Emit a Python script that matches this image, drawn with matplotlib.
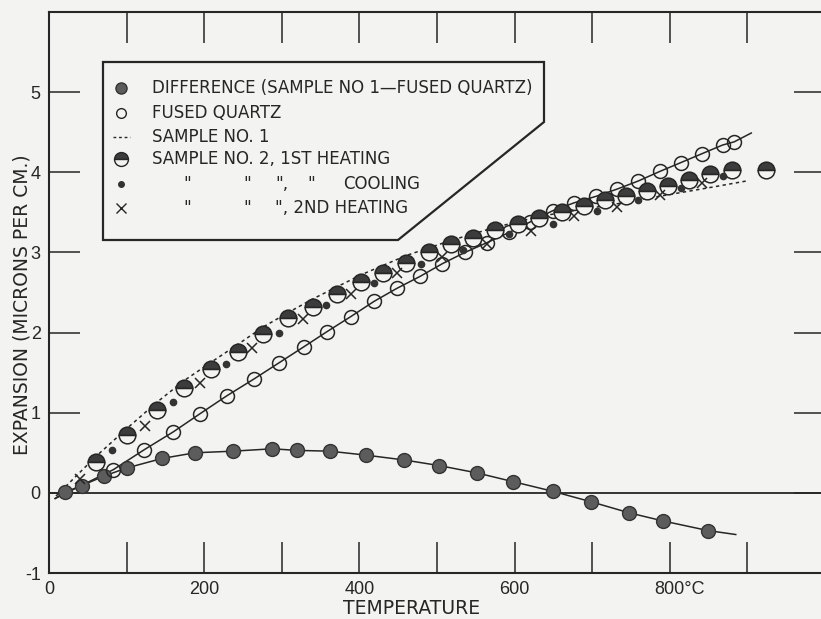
"""Thermal expansion of fused quartz and two samples (scanned NBS-style figure)."""

import matplotlib

matplotlib.use("Agg")
import matplotlib.pyplot as plt
from matplotlib.patches import Polygon
from matplotlib.transforms import ScaledTranslation

# ---- data (temperature in deg C, expansion in microns/cm)
diff_t = [21, 42, 71, 100, 146, 188, 237, 288, 319, 362, 409, 458, 503, 551,
          598, 649, 698, 748, 791, 849]
diff_e = [0.01, 0.09, 0.21, 0.31, 0.43, 0.50, 0.52, 0.55, 0.53, 0.52, 0.47,
          0.41, 0.34, 0.25, 0.14, 0.02, -0.11, -0.25, -0.35, -0.47]
diff_curve_t = [8] + diff_t + [885]
diff_curve_e = [-0.07] + diff_e + [-0.52]

quartz_t = [83, 123, 160, 195, 229, 264, 296, 328, 358, 389, 419, 448, 478,
            507, 536, 564, 593, 620, 649, 677, 705, 732, 759, 787, 814, 841,
            868, 883]
quartz_e = [0.29, 0.54, 0.76, 0.99, 1.21, 1.42, 1.62, 1.82, 2.01, 2.20, 2.39,
            2.55, 2.70, 2.86, 3.00, 3.12, 3.25, 3.38, 3.52, 3.62, 3.70, 3.79,
            3.89, 4.01, 4.12, 4.23, 4.34, 4.38]
quartz_curve_t = [8] + quartz_t + [905]
quartz_curve_e = [-0.07] + quartz_e + [4.49]

sample1_t = [9, 60, 100, 139, 174, 209, 243, 276, 312, 340, 371, 402, 431,
             460, 518, 574, 632, 689, 728, 798, 852, 898]
sample1_e = [-0.04, 0.45, 0.80, 1.13, 1.40, 1.63, 1.85, 2.07, 2.27, 2.42, 2.57,
             2.72, 2.84, 2.96, 3.15, 3.31, 3.45, 3.54, 3.60, 3.72, 3.81, 3.89]

heat1_t = [60, 100, 139, 174, 209, 243, 276, 308, 340, 371, 402, 431, 460, 490,
           518, 547, 575, 604, 632, 661, 689, 716, 744, 771, 798, 825, 852,
           880, 924]
heat1_e = [0.38, 0.72, 1.04, 1.31, 1.55, 1.76, 1.98, 2.18, 2.32, 2.48, 2.63,
           2.74, 2.87, 3.00, 3.10, 3.18, 3.28, 3.36, 3.43, 3.50, 3.58, 3.65,
           3.70, 3.77, 3.83, 3.90, 3.98, 4.03, 4.03]

cool_t = [81, 160, 228, 296, 357, 419, 479, 534, 593, 649, 706, 759, 814, 869]
cool_e = [0.53, 1.13, 1.61, 2.00, 2.34, 2.62, 2.85, 3.03, 3.23, 3.35, 3.52,
          3.65, 3.81, 3.95]

heat2_t = [40, 124, 194, 262, 327, 389, 449, 506, 564, 621, 676, 732, 787, 842]
heat2_e = [0.17, 0.84, 1.37, 1.81, 2.17, 2.48, 2.74, 2.94, 3.11, 3.27, 3.45,
           3.57, 3.72, 3.87]

x_ticks = list(range(0, 1000, 100))
x_labels = ["0", "", "200", "", "400", "", "600", "", "800°C", ""]
y_ticks = [-1, 0, 1, 2, 3, 4, 5]
y_labels = ["-1", "0", "1", "2", "3", "4", "5"]

legend_rows = [
    "DIFFERENCE (SAMPLE NO 1—FUSED QUARTZ)",
    "FUSED QUARTZ",
    "SAMPLE NO. 1",
    "SAMPLE NO. 2, 1ST HEATING",
]

INK = "#262626"
BG = "#f3f3f1"
LEG_FS = 12

fig = plt.figure(figsize=(8.21, 6.19), dpi=100, facecolor=BG)
# axes box in pixels: left 49, right 825 (cropped), top 12, bottom 573
ax = fig.add_axes([49 / 821, (619 - 573) / 619, 776 / 821, 561 / 619])
ax.set_facecolor(BG)
ax.set_xlim(0, 1000)
ax.set_ylim(-1, 6)


def px(x, y):
    """pixel position in the 821x619 picture -> axes fraction"""
    return (x - 49) / 776, (573 - y) / 561


for sp in ax.spines.values():
    sp.set_linewidth(1.5)
    sp.set_color(INK)

ax.axhline(0, color=INK, lw=1.3, zorder=1)

ax.set_xticks(x_ticks, x_labels)
ax.set_yticks(y_ticks, y_labels)
ax.tick_params(direction="in", length=22, width=1.1, colors=INK,
               top=True, right=True, labelsize=13)
ax.tick_params(axis="x", pad=6)
ax.tick_params(axis="y", pad=6)
for lbl in ax.get_xticklabels() + ax.get_yticklabels():
    lbl.set_family("Liberation Sans")
lbl = ax.get_xticklabels()[8]
lbl.set_transform(lbl.get_transform() + ScaledTranslation(0.1, 0, fig.dpi_scale_trans))

# curves
ax.plot(diff_curve_t, diff_curve_e, color=INK, lw=1.1, zorder=2)
ax.plot(quartz_curve_t, quartz_curve_e, color=INK, lw=1.1, zorder=2)
ax.plot(sample1_t, sample1_e, color=INK, lw=1.1, ls=(0, (2.2, 2.2)), zorder=2)

# points
ax.plot(diff_t, diff_e, "o", ms=10, mfc="#5c5c5c", mec="#333333", mew=1,
        zorder=4)
ax.plot(quartz_t, quartz_e, "o", ms=10, mfc="none", mec=INK, mew=1.1, zorder=4)
ax.plot(heat1_t, heat1_e, "o", ms=12, fillstyle="top", mfc="#3c3c3c",
        markerfacecoloralt=BG, mec=INK, mew=1.1, zorder=4)
ax.plot(cool_t, cool_e, "o", ms=4.5, color="#333333", zorder=4)
ax.plot(heat2_t, heat2_e, "x", ms=7, mew=1.1, color=INK, zorder=4)

# legend box with the clipped corner
box = [px(103, 62), px(544, 62), px(544, 122), px(398, 240), px(103, 240)]
ax.add_patch(Polygon(box, closed=True, fill=False, ec=INK, lw=1.6,
                     transform=ax.transAxes, zorder=5))

row_y = [88, 113, 137, 159, 184, 208]
mx = 121
tx = 152
T = ax.transAxes
ax.plot(*px(mx, row_y[0]), "o", ms=8, mfc="#5c5c5c", mec="#333333", transform=T)
ax.plot(*px(mx, row_y[1]), "o", ms=7, mfc="none", mec=INK, mew=1, transform=T)
ax.plot([px(113, 0)[0], px(130, 0)[0]], [px(0, row_y[2])[1]] * 2, color=INK,
        lw=1, ls=(0, (2, 2)), transform=T)
ax.plot(*px(mx, row_y[3]), "o", ms=10, fillstyle="top", mfc="#3c3c3c",
        markerfacecoloralt=BG, mec=INK, mew=1, transform=T)
ax.plot(*px(mx, row_y[4]), "o", ms=4, color="#333333", transform=T)
ax.plot(*px(mx, row_y[5]), "x", ms=7, mew=1, color=INK, transform=T)

for txt, yy in zip(legend_rows, row_y):
    ax.text(*px(tx, yy), txt, transform=T, fontsize=LEG_FS, color=INK,
            ha="left", va="center")
for x0, piece in [(183, '"'), (243, '"'), (275, '",'), (307, '"'), (343, "COOLING")]:
    ax.text(*px(x0, row_y[4]), piece, transform=T, fontsize=LEG_FS, color=INK,
            ha="left", va="center")
for x0, piece in [(183, '"'), (243, '"'), (275, '", 2ND HEATING')]:
    ax.text(*px(x0, row_y[5]), piece, transform=T, fontsize=LEG_FS, color=INK,
            ha="left", va="center")

# axis titles
ax.text(*px(412, 609), "TEMPERATURE", transform=T, fontsize=13.5, color=INK,
        ha="center", va="center", clip_on=False)
ax.text(*px(22, 305), "EXPANSION (MICRONS PER CM.)", transform=T, fontsize=13.5,
        color=INK, ha="center", va="center", rotation=90, clip_on=False)

fig.savefig("out.png", dpi=100, facecolor=BG)
